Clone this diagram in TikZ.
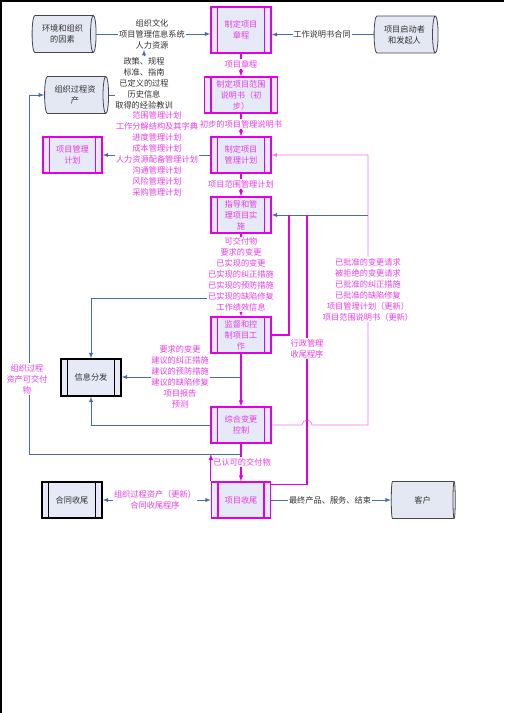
\documentclass[tikz,border=0pt]{standalone}
\usepackage{fontspec}
\setmainfont{Noto Sans CJK SC}
\usetikzlibrary{arrows,shapes.geometric,backgrounds}
\definecolor{magline}{RGB}{226,0,226}
\definecolor{pinkline}{RGB}{238,120,238}
\definecolor{magtext}{RGB}{228,60,228}
\definecolor{blueline}{RGB}{72,108,164}
\definecolor{boxfill}{RGB}{230,233,246}
\definecolor{cylfill}{RGB}{228,232,242}
\definecolor{cylline}{RGB}{70,70,80}
\definecolor{darktext}{RGB}{50,50,50}
\tikzset{
	sidebars/.style={path picture={\draw[#1, line width=1.3pt]
		([xshift=6.5pt]path picture bounding box.north west) -- ([xshift=6.5pt]path picture bounding box.south west)
		([xshift=-6.5pt]path picture bounding box.north east) -- ([xshift=-6.5pt]path picture bounding box.south east);}},
	magbox/.style={rectangle, draw=magline, line width=1.3pt, fill=boxfill, text=magtext, align=center,
		minimum width=60pt, minimum height=36pt, inner sep=0pt, sidebars=magline},
	darkbox/.style={rectangle, draw=black, line width=1.3pt, fill=boxfill, text=darktext, align=center,
		minimum width=60pt, minimum height=36pt, inner sep=0pt, sidebars=black},
	cyl/.style={cylinder, aspect=0.3, draw=cylline, line width=0.8pt, fill=cylfill, text=darktext, align=center,
		minimum width=37pt, minimum height=64pt, inner sep=0pt},
	lbl/.style={fill=white, inner sep=0.8pt, align=center, text=magtext},
	graylbl/.style={lbl, text=darktext},
	blueconn/.style={draw=blueline, line width=0.9pt},
	magconn/.style={draw=magline, line width=1.1pt},
	pinkconn/.style={draw=pinkline, line width=0.8pt}
}
\begin{document}
\begin{tikzpicture}[x=1pt,y=-1pt,>=latex,every node/.style={font=\fontsize{8.2}{11}\selectfont}]
		\useasboundingbox (0,0) rectangle (504,713);
		\draw[line width=1.5pt] (0.75,713) -- (0.75,0.75) -- (504,0.75);
		%outer parties
		\node[cyl] (envfactor) at (62.5,34) {环境和组织\\的因素};
		\node[cyl] (sponsor) at (404.5,34.5) {项目启动者\\和发起人};
		\node[cyl] (orgasset) at (75,95) {组织过程资\\产};
		\node[cyl] (customer) at (422.5,500) {客户};
		%process column
		\node[magbox, minimum height=46pt] (charter) at (241,30) {制定项目\\章程};
		\node[magbox, minimum width=73pt] (prelimscope) at (241,95) {制定项目范围\\说明书（初\\步）};
		\node[magbox] (pmplan) at (241,155) {制定项目\\管理计划};
		\node[magbox] (direct) at (241,215) {指导和管\\理项目实\\施};
		\node[magbox] (monitor) at (241,335) {监督和控\\制项目工\\作};
		\node[magbox] (change) at (241,425) {综合变更\\控制};
		\node[magbox, minimum width=59pt] (closeproj) at (241,500) {项目收尾};
		%left column
		\node[magbox, minimum width=59pt] (pmplanbox) at (72.5,155) {项目管理\\计划};
		\node[darkbox, minimum height=37pt] (infodist) at (91,377.5) {信息分发};
		\node[darkbox] (closecontract) at (72,500) {合同收尾};
		%labels
		\node[graylbl] (envlbl) at (152,34) {组织文化\\项目管理信息系统\\人力资源};
		\node[graylbl] (policylbl) at (144,83) {政策、规程\\标准、指南\\已定义的过程\\历史信息\\取得的经验教训};
		\node[graylbl] (sowlbl) at (322,34) {工作说明书合同};
		\node[lbl] (charterlbl) at (241,64) {项目章程};
		\node[lbl] (prelimlbl) at (241,124) {初步的项目管理说明书};
		\node[lbl] (subplanlbl) at (157,154) {范围管理计划\\工作分解结构及其字典\\进度管理计划\\成本管理计划\\人力资源配备管理计划\\沟通管理计划\\风险管理计划\\采购管理计划};
		\node[lbl] (scopelbl) at (241,184) {项目范围管理计划};
		\node[lbl] (delivlbl) at (241,274.5) {可交付物\\要求的变更\\已实现的变更\\已实现的纠正措施\\已实现的预防措施\\已实现的缺陷修复\\工作绩效信息};
		\node[lbl] (approvedlbl) at (368,289.5) {已批准的变更请求\\被拒绝的变更请求\\已批准的纠正措施\\已批准的缺陷修复\\项目管理计划（更新）\\项目范围说明书（更新）};
		\node[lbl] (adminlbl) at (307,348.5) {行政管理\\收尾程序};
		\node[lbl] (reportlbl) at (180,377) {要求的变更\\建议的纠正措施\\建议的预防措施\\建议的缺陷修复\\项目报告\\预测};
		\node[lbl] (oadelivlbl) at (27,379) {组织过程\\资产可交付\\物};
		\node[lbl] (acceptlbl) at (242,462) {已认可的交付物};
		\node[lbl] (closelbl) at (155,499.5) {组织过程资产（更新）\\合同收尾程序};
		\node[graylbl] (finallbl) at (330,500) {最终产品、服务、结束};
		%branch points
		\coordinate (delivtap) at (241,298);
		\coordinate (monitap) at (241,377);
		\coordinate (chgtap) at (241,454);
		\coordinate (oacorner) at (29,454);
		\coordinate (apptap) at (368,215);
		\coordinate (fbtap) at (289,215);
		\coordinate (admintap) at (307,215);
		\begin{scope}[on background layer]
		%inputs
		\draw[blueconn,->] (envfactor.east) -- (envfactor.east -| charter.west);
		\draw[blueconn,->] (sponsor.west) -- (sponsor.west -| charter.east);
		\draw[blueconn,->] (orgasset.east) -| ([xshift=-8pt]envlbl.south);
		%main flow
		\draw[magconn,->] (charter.south) -- (prelimscope.north);
		\draw[magconn,->] (prelimscope.south) -- (pmplan.north);
		\draw[blueconn,->] (pmplan.west) -- (pmplanbox.east);
		\draw[magconn,->] (pmplan.south) -- (direct.north);
		\draw[magconn,->] (direct.south) -- (monitor.north);
		\draw[blueconn,->] (delivtap) -| (infodist.north);
		\draw[magconn,->] (monitor.south) -- (change.north);
		\draw[blueconn,->] (monitap) -- (monitap -| infodist.east);
		\draw[blueconn,->] (change.west) -| (infodist.south);
		%feedback
		\draw[pinkconn,->] (change.east) -- (302,425) arc (180:360:5) -- (368,425) -- (368,155) -- (pmplan.east);
		\draw[blueconn,->] (apptap) -- (direct.east);
		\draw[magconn] (monitor.east) -| (fbtap);
		\draw[magconn] ([yshift=-3pt]closeproj.north east) -| (admintap);
		%closing
		\draw[magconn,->] (change.south) -- (closeproj.north);
		\draw[magconn,->] (closeproj.north west) -- (closeproj.north west |- chgtap);
		\draw[blueconn,->] (chgtap) -- (oacorner) |- (orgasset.west);
		\draw[blueconn,<->] (closecontract.east) -- (closeproj.west);
		\draw[blueconn,->] (closeproj.east) -- (customer.west);
		\end{scope}
	\end{tikzpicture}
\end{document}
